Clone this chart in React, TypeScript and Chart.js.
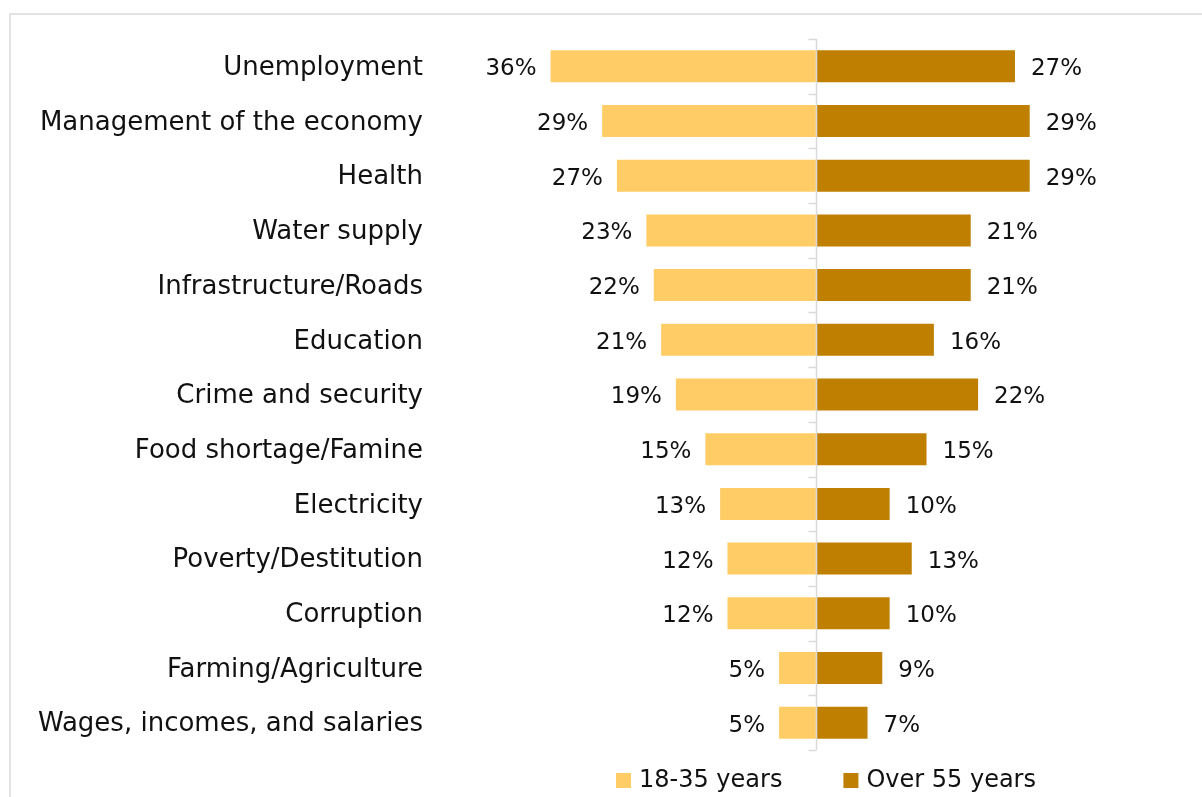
import React, { useEffect, useRef } from "react";
import { Chart, registerables } from "chart.js";

Chart.register(...registerables);

const categories = [
  "Unemployment",
  "Management of the economy",
  "Health",
  "Water supply",
  "Infrastructure/Roads",
  "Education",
  "Crime and security",
  "Food shortage/Famine",
  "Electricity",
  "Poverty/Destitution",
  "Corruption",
  "Farming/Agriculture",
  "Wages, incomes, and salaries",
];

const youth = [36, 29, 27, 23, 22, 21, 19, 15, 13, 12, 12, 5, 5];
const older = [27, 29, 29, 21, 21, 16, 22, 15, 10, 13, 10, 9, 7];

const seriesLabels = ["18-35 years", "Over 55 years"];
const seriesColors = ["#FFCC66", "#BF7F00"];

const FONT = "'DejaVu Sans', sans-serif";
const TEXT_COLOR = "#111111";
const AXIS_COLOR = "#d9d9d9";

const centerAxisPlugin = {
  id: "centerAxis",
  afterDatasetsDraw(chart: any) {
    const { ctx, chartArea, scales } = chart;
    const x0 = Math.round(scales.x.getPixelForValue(0)) + 0.5;
    ctx.save();
    ctx.strokeStyle = AXIS_COLOR;
    ctx.lineWidth = 1.5;
    ctx.beginPath();
    ctx.moveTo(x0, chartArea.top);
    ctx.lineTo(x0, chartArea.bottom);
    const n = chart.data.labels.length;
    const step = (chartArea.bottom - chartArea.top) / n;
    for (let i = 0; i <= n; i++) {
      const y = Math.round(chartArea.top + i * step) + 0.5;
      ctx.moveTo(x0 - 8, y);
      ctx.lineTo(x0, y);
    }
    ctx.stroke();
    ctx.restore();
  },
};

const valueLabelPlugin = {
  id: "valueLabels",
  afterDatasetsDraw(chart: any) {
    const { ctx } = chart;
    ctx.save();
    ctx.font = `23px ${FONT}`;
    ctx.fillStyle = TEXT_COLOR;
    ctx.textBaseline = "middle";
    chart.data.datasets.forEach((ds: any, di: number) => {
      const meta = chart.getDatasetMeta(di);
      meta.data.forEach((el: any, i: number) => {
        const v = Math.abs(ds.data[i]);
        const txt = `${v}%`;
        if (di === 0) {
          ctx.textAlign = "right";
          ctx.fillText(txt, el.x - 14, el.y + 3);
        } else {
          ctx.textAlign = "left";
          ctx.fillText(txt, el.x + 16, el.y + 3);
        }
      });
    });
    ctx.restore();
  },
};

const customLegendPlugin = {
  id: "customLegend",
  afterDraw(chart: any) {
    const { ctx } = chart;
    ctx.save();
    ctx.font = `24px ${FONT}`;
    ctx.textBaseline = "middle";
    ctx.textAlign = "left";
    let x = 616;
    const yc = 780;
    chart.data.datasets.forEach((ds: any) => {
      ctx.fillStyle = ds.backgroundColor;
      ctx.fillRect(x, yc - 7, 15, 15);
      ctx.fillStyle = TEXT_COLOR;
      ctx.fillText(ds.label, x + 23, yc + 1);
      x += 23 + ctx.measureText(ds.label).width + 61;
    });
    ctx.restore();
  },
};

export default function App() {
  const canvasRef = useRef<HTMLCanvasElement | null>(null);

  useEffect(() => {
    if (!canvasRef.current) return;
    const chart = new Chart(canvasRef.current, {
      type: "bar",
      data: {
        labels: categories,
        datasets: [
          {
            label: seriesLabels[0],
            data: youth.map((v) => -v),
            backgroundColor: seriesColors[0],
            borderWidth: 0,
            barPercentage: 0.585,
            categoryPercentage: 1,
          },
          {
            label: seriesLabels[1],
            data: older,
            backgroundColor: seriesColors[1],
            borderWidth: 0,
            barPercentage: 0.585,
            categoryPercentage: 1,
          },
        ],
      },
      options: {
        indexAxis: "y",
        responsive: false,
        animation: false,
        devicePixelRatio: 1,
        layout: { padding: { top: 39, bottom: 47, left: 0, right: 17.5 } },
        plugins: {
          legend: { display: false },
          tooltip: { enabled: false },
        },
        scales: {
          x: {
            type: "linear",
            min: -51,
            max: 50,
            stacked: true,
            display: false,
          },
          y: {
            stacked: true,
            grid: { display: false, drawTicks: false },
            border: { display: false },
            ticks: {
              font: { family: FONT, size: 26 },
              color: TEXT_COLOR,
              padding: 17,
              labelOffset: 2,
              autoSkip: false,
            },
            afterFit: (scale: any) => {
              scale.width = 440;
            },
          },
        },
      },
      plugins: [centerAxisPlugin, valueLabelPlugin, customLegendPlugin],
    } as any);
    return () => chart.destroy();
  }, []);

  return (
    <div
      style={{
        position: "fixed",
        left: 0,
        top: 0,
        width: 1202,
        height: 797,
        overflow: "hidden",
        background: "#ffffff",
      }}
    >
      <div
        style={{
          position: "absolute",
          left: 9,
          top: 13,
          width: 1400,
          height: 1000,
          border: "2px solid #e2e2e2",
          boxSizing: "border-box",
        }}
      />
      <canvas
        ref={canvasRef}
        width={1202}
        height={797}
        style={{ position: "absolute", left: 0, top: 0 }}
      />
    </div>
  );
}
